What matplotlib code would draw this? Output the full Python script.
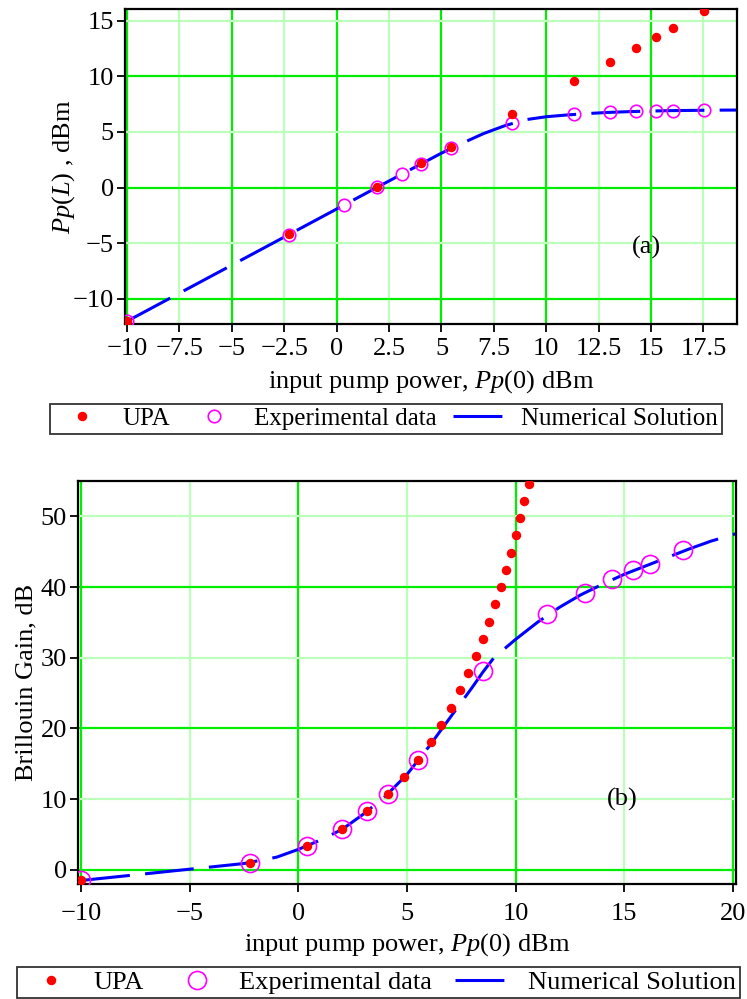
import matplotlib
matplotlib.use('Agg')
import matplotlib.pyplot as plt
from matplotlib.ticker import MultipleLocator, FuncFormatter

plt.rcParams['font.family'] = ['Liberation Serif', 'DejaVu Serif']
plt.rcParams['mathtext.fontset'] = 'custom'
plt.rcParams['mathtext.rm'] = 'Liberation Serif'
plt.rcParams['mathtext.it'] = 'Liberation Serif:italic'

# ---- panel (a): output pump power ----
upa_a_x = [-10, -2.27, 1.94, 4.03, 5.46, 8.37, 11.33, 13.05, 14.27, 15.25, 16.03, 17.52]
upa_a_y = [-12.0, -4.2, 0.05, 2.21, 3.62, 6.59, 9.56, 11.33, 12.56, 13.55, 14.33, 15.83]

exp_a_x = [-10, -2.27, 0.35, 1.94, 3.11, 4.03, 5.46, 8.37, 11.33, 13.05, 14.27, 15.25, 16.03, 17.52]
exp_a_y = [-12.0, -4.23, -1.56, 0.05, 1.26, 2.16, 3.53, 5.81, 6.59, 6.77, 6.86, 6.86, 6.92, 6.95]

num_a_x = [-10, -7.5, -5, -2.5, 0, 2, 3, 4, 5, 6, 7, 8, 9, 10, 11, 12, 13, 14, 15, 16, 17, 18, 19.1]
num_a_y = [-12.0, -9.48, -6.96, -4.44, -1.92, 0.1, 1.1, 2.1, 3.1, 4.0, 4.85, 5.55, 6.1, 6.37, 6.53, 6.66, 6.76, 6.83, 6.88, 6.92, 6.94, 6.96, 6.97]

# ---- panel (b): Brillouin gain ----
upa_b_x = [-10, -2.25, 0.40, 2.0, 3.16, 4.13, 4.87, 5.51, 6.09, 6.58, 7.03, 7.44, 7.82, 8.16,
           8.48, 8.77, 9.05, 9.31, 9.56, 9.79, 10.0, 10.22, 10.41, 10.61]
upa_b_y = [-1.41, 1.03, 3.43, 5.8, 8.3, 10.8, 13.18, 15.6, 18.04, 20.48, 22.93, 25.42, 27.87, 30.27,
           32.67, 35.12, 37.57, 40.01, 42.47, 44.87, 47.3, 49.76, 52.16, 54.6]

exp_b_x = [-10, -2.25, 0.40, 2.0, 3.16, 4.13, 5.51, 8.50, 11.45, 13.2, 14.43, 15.41, 16.19, 17.71]
exp_b_y = [-1.41, 1.03, 3.43, 5.79, 8.38, 10.73, 15.5, 28.06, 36.2, 39.2, 41.1, 42.37, 43.3, 45.2]

num_b_x = [-10, -7.5, -5, -2.5, -1, 0, 1, 2, 3, 4, 5, 6, 7, 8, 8.5, 9, 10, 11, 12, 13, 14, 15,
           16, 17, 18, 19, 20.2]
num_b_y = [-1.5, -0.7, 0.1, 0.9, 1.8, 2.9, 4.2, 5.7, 7.9, 10.4, 13.5, 17.4, 21.6, 25.8, 28.0, 30.0,
           32.6, 35.0, 37.1, 38.9, 40.4, 41.8, 43.0, 44.2, 45.4, 46.5, 47.6]

FS = 19
bright = '#00ee00'
light = '#bbffbb'
fmt = FuncFormatter(lambda v, p: ('%g' % v).replace('-', '\u2212'))


def style_axes(ax, xmaj, ymaj, xlim, ylim, xpad):
    ax.set_xlim(*xlim)
    ax.set_ylim(*ylim)
    ax.xaxis.set_major_locator(MultipleLocator(xmaj))
    ax.xaxis.set_minor_locator(MultipleLocator(xmaj / 2))
    ax.yaxis.set_major_locator(MultipleLocator(ymaj))
    ax.yaxis.set_minor_locator(MultipleLocator(ymaj / 2))
    for axis in (ax.xaxis, ax.yaxis):
        axis.set_major_formatter(fmt)
        axis.set_minor_formatter(fmt)
    ax.grid(which='major', color=bright, lw=1.6, zorder=0)
    ax.grid(which='minor', color=light, lw=1.6, zorder=0)
    ax.set_axisbelow(True)
    ax.tick_params(which='both', direction='out', length=6, width=1.3, labelsize=FS,
                   top=False, right=False, pad=2)
    ax.tick_params(axis='x', which='both', pad=xpad)
    for s in ax.spines.values():
        s.set_linewidth(1.6)


def draw(ax, ux, uy, ex, ey, nx, ny, circ):
    ln, = ax.plot(nx, ny, color='#0000ff', lw=2.2, dashes=(16, 5), zorder=2,
                  label='Numerical Solution')
    ci, = ax.plot(ex, ey, 'o', mfc='none', mec='#ff00ff', ms=circ, mew=1.2, zorder=3,
                  label='Experimental data')
    dt, = ax.plot(ux, uy, 'o', color='#ff0000', ms=5.8, zorder=4, label='UPA')
    return [dt, ci, ln]


fig = plt.figure(figsize=(7.47, 9.99), dpi=100)
ax1 = fig.add_axes([0.1673, 0.6757, 0.8193, 0.3153])
ax2 = fig.add_axes([0.1044, 0.1151, 0.8809, 0.4034])

h1 = draw(ax1, upa_a_x, upa_a_y, exp_a_x, exp_a_y, num_a_x, num_a_y, 9)
style_axes(ax1, 5, 10, (-10.1, 19.1), (-12.25, 16.05), 4)
ax1.yaxis.set_major_locator(MultipleLocator(10))
ax1.yaxis.set_minor_locator(MultipleLocator(5))
ax1.set_xlabel(r'input pump power, $Pp(0)$ dBm', fontsize=FS, labelpad=6)
ax1.set_ylabel(r'$Pp(L)$ , dBm', fontsize=FS, labelpad=-3)
ax1.text(14.8, -5.4, '(a)', fontsize=FS, ha='center', va='center')

h2 = draw(ax2, upa_b_x, upa_b_y, exp_b_x, exp_b_y, num_b_x, num_b_y, 13)
style_axes(ax2, 10, 20, (-10.15, 20.15), (-2.0, 55.0), 8)
ax2.set_xlabel(r'input pump power, $Pp(0)$ dBm', fontsize=FS, labelpad=4)
ax2.set_ylabel('Brillouin Gain, dB', fontsize=FS, labelpad=2)
ax2.text(14.9, 9.9, '(b)', fontsize=FS, ha='center', va='center')

for h, box, lfs in ((h1, (0.0669, 0.5656, 0.8996, 0.034), 18),
                    (h2, (0.0228, 0.001, 0.9672, 0.035), FS)):
    leg = fig.legend(h, [x.get_label() for x in h], ncol=3, fontsize=lfs, loc='lower left',
                     bbox_to_anchor=box, mode='expand', frameon=True, fancybox=False,
                     edgecolor='black', borderpad=0.15, handlelength=2.3, handletextpad=0.45,
                     columnspacing=0.8, borderaxespad=0)
    leg.get_frame().set_linewidth(1.3)

fig.savefig('out.png', dpi=100)
